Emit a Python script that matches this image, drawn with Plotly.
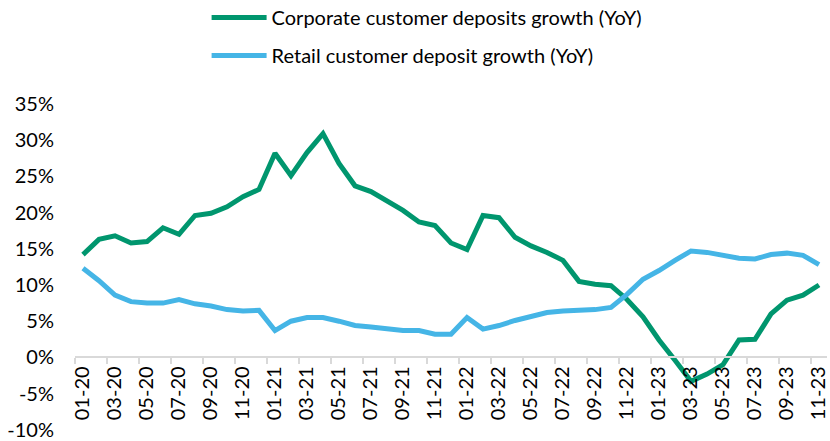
import plotly.graph_objects as go

months = ["01-20", "02-20", "03-20", "04-20", "05-20", "06-20", "07-20", "08-20", "09-20", "10-20", "11-20", "12-20",
          "01-21", "02-21", "03-21", "04-21", "05-21", "06-21", "07-21", "08-21", "09-21", "10-21", "11-21", "12-21",
          "01-22", "02-22", "03-22", "04-22", "05-22", "06-22", "07-22", "08-22", "09-22", "10-22", "11-22", "12-22",
          "01-23", "02-23", "03-23", "04-23", "05-23", "06-23", "07-23", "08-23", "09-23", "10-23", "11-23"]

corporate = [14.2, 16.3, 16.8, 15.8, 16.0, 17.9, 17.0, 19.6, 19.9, 20.8, 22.2, 23.2,
             28.2, 25.1, 28.3, 30.9, 26.8, 23.7, 22.9, 21.6, 20.3, 18.7, 18.2, 15.8,
             14.9, 19.6, 19.3, 16.6, 15.4, 14.5, 13.4, 10.5, 10.1, 9.9, 8.0, 5.6,
             2.4, -0.4, -3.3, -2.3, -1.0, 2.4, 2.5, 6.0, 7.9, 8.6, 10.0]

retail = [12.3, 10.6, 8.6, 7.7, 7.5, 7.5, 8.0, 7.4, 7.1, 6.6, 6.4, 6.5,
          3.7, 5.0, 5.5, 5.5, 5.0, 4.4, 4.2, 4.0, 3.7, 3.7, 3.2, 3.2,
          5.5, 3.9, 4.4, 5.1, 5.6, 6.2, 6.4, 6.5, 6.6, 6.9, 8.7, 10.8,
          12.0, 13.4, 14.7, 14.5, 14.1, 13.7, 13.6, 14.2, 14.4, 14.1, 12.8]

y_ticks = [-10, -5, 0, 5, 10, 15, 20, 25, 30, 35]
y_tick_labels = ["-10%", "-5%", "0%", "5%", "10%", "15%", "20%", "25%", "30%", "35%"]

GREEN = "#00966E"
BLUE = "#45B5E6"
FONT = "Lato"

fig = go.Figure()
fig.add_trace(go.Scatter(x=months, y=corporate, mode="lines",
                         name="Corporate customer deposits growth (YoY)",
                         line=dict(color=GREEN, width=5), legendgroup="a"))
fig.add_trace(go.Scatter(x=months, y=retail, mode="lines",
                         name="Retail customer deposit growth (YoY)",
                         line=dict(color=BLUE, width=5), legendgroup="b"))

fig.update_layout(
    width=830, height=441,
    margin=dict(l=75, r=3, t=104, b=11, autoexpand=False),
    paper_bgcolor="white", plot_bgcolor="white",
    font=dict(family=FONT, size=20, color="#000000"),
    showlegend=True,
    legend=dict(x=0.175, y=1.325, xanchor="left", yanchor="top",
                orientation="v", traceorder="grouped", tracegroupgap=9,
                itemwidth=55, font=dict(size=20), bgcolor="rgba(0,0,0,0)"),
    xaxis=dict(type="category", anchor="free", position=10.03 / 45.03,
               tickmode="linear", tick0=0, dtick=2, tickson="boundaries",
               tickangle=-90, showline=True, linecolor="#D9D9D9", linewidth=2,
               ticks="outside", ticklen=6, tickcolor="#D9D9D9", tickwidth=2,
               showgrid=False, zeroline=False, range=[-0.5, 46.5],
               tickfont=dict(size=20)),
    yaxis=dict(range=[-10.03, 35], tickmode="array", tickvals=y_ticks,
               ticktext=y_tick_labels, showgrid=False, zeroline=False,
               showline=False, ticks="", ticklabelstandoff=20,
               ticklabeloverflow="allow", tickfont=dict(size=20)),
)

fig.write_html("out.html")
